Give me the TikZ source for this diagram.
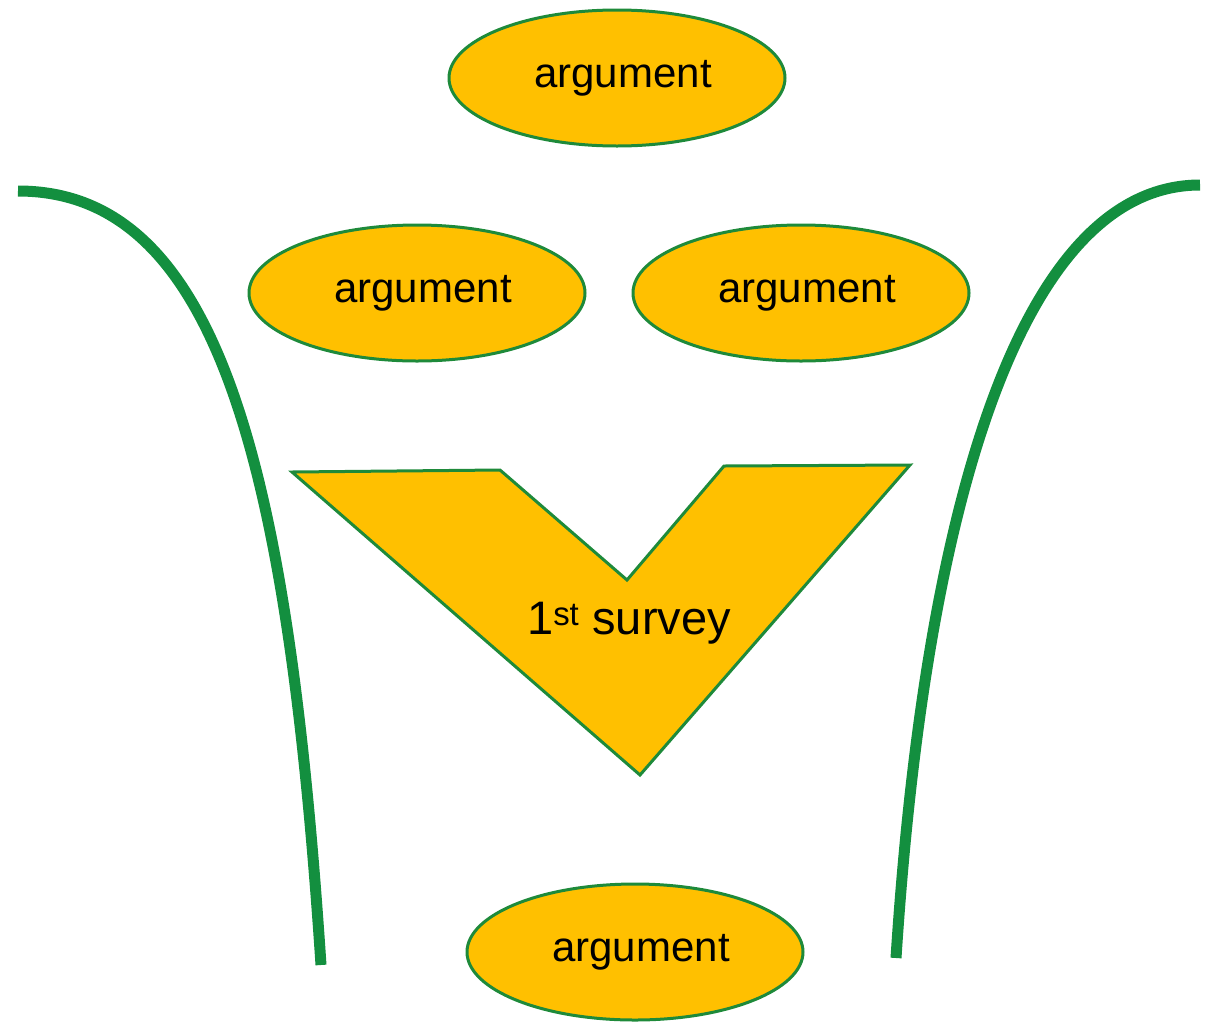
\documentclass[tikz,border=0pt]{standalone}
\usepackage{fontspec}
\setmainfont{Liberation Sans}
\usetikzlibrary{shapes.geometric}
\definecolor{gold}{HTML}{FFC000}
\definecolor{edge}{HTML}{1E8A3A}
\definecolor{curve}{HTML}{138F3F}
\tikzset{
  arg/.style={ellipse, draw=edge, fill=gold, line width=3pt, minimum width=336pt, minimum height=136pt, inner sep=0pt, font=\fontsize{42}{50}\selectfont},
  vshape/.style={draw=edge, fill=gold, line width=3pt, line join=miter},
  stem/.style={draw=curve, line width=11pt}
}
\newcommand{\argtext}{\raisebox{-4pt}{\hspace*{12pt}argument}}
\begin{document}
\begin{tikzpicture}[x=1pt,y=-1pt]
\useasboundingbox (0,0) rectangle (1215,1023);
\node[arg] (a1) at (617,78) {\argtext};
\node[arg] (a2) at (417,293) {\argtext};
\node[arg] (a3) at (801,293) {\argtext};
\node[arg] (a4) at (635,952) {\argtext};
\draw[vshape] (292,472) -- (500,470) -- (627,580) -- (724,466) -- (910,465) -- (640,775) -- cycle;
\node[font=\fontsize{47}{56}\selectfont, inner sep=0pt] (sv) at (629,623) {1\textsuperscript{st} survey};
\draw[stem] (18,191) .. controls (218,191) and (288,465) .. (321,965);
\draw[stem] (1200,185) .. controls (1020,185) and (925,508) .. (896,958);
\end{tikzpicture}
\end{document}
